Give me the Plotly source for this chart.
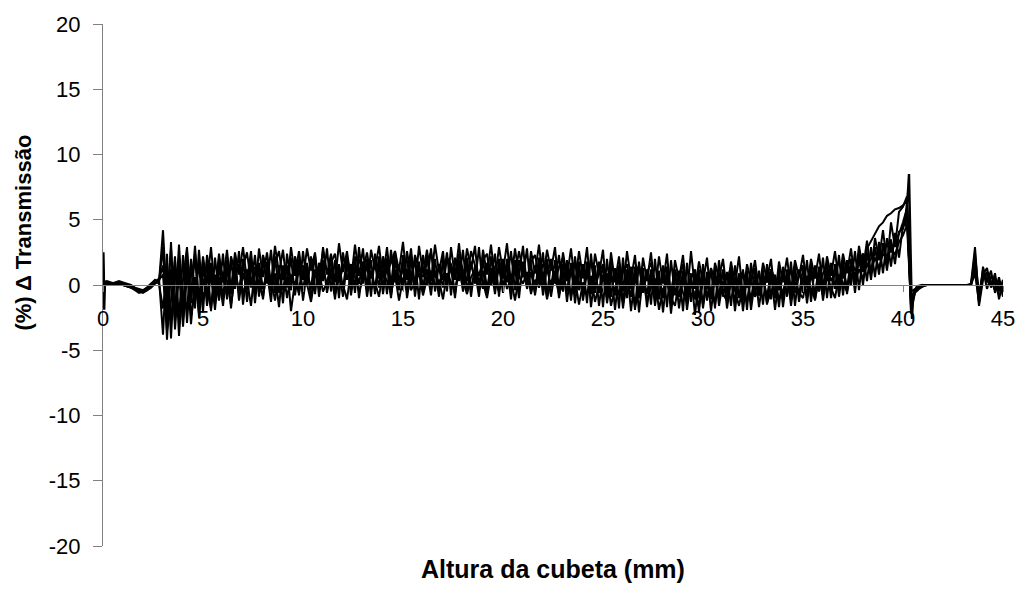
import numpy as np
import plotly.graph_objects as go

# Sample spacing along the cuvette height (mm)
x_step = 0.2

# Delta transmission (%) curves, one value per 0.2 mm (0 .. 45 mm)
serie_1 = [
    0.3, 0.2, 0.1, 0.2, 0.3, 0.2, 0.1, 0.0, -0.2, -0.3,
    -0.4, -0.2, 0.1, 0.4, 0.2, 4.2, -1.5, 2.8, -2.2, 3.1,
    -1.8, 2.6, -0.9, 3.0, -1.2, 2.2, 0.1, 2.9, -0.6, 2.4,
    0.2, 2.7, -0.4, 2.5, 0.8, 2.9, 0.3, 2.6, -0.8, 2.8,
    0.6, 2.5, 0.1, 3.0, 0.9, 2.7, -0.2, 2.9, 0.7, 2.6,
    0.4, 2.8, 1.1, 2.5, -0.3, 2.9, 0.8, 2.4, 0.2, 3.2,
    1.0, 2.6, 0.3, 3.1, 0.7, 2.8, -0.4, 2.7, 1.2, 3.0,
    0.5, 2.9, 0.0, 2.6, 1.1, 3.3, 0.4, 2.8, -0.2, 3.0,
    0.9, 2.7, 0.3, 3.1, 1.0, 2.6, -0.5, 2.9, 0.6, 3.2,
    0.2, 2.8, 1.2, 3.0, -0.3, 2.7, 0.8, 3.1, 0.4, 2.9,
    1.0, 3.2, 0.1, 2.8, 0.7, 3.0, -0.2, 2.6, 0.9, 3.1,
    0.3, 2.7, 1.1, 2.9, -0.4, 2.5, 0.6, 2.8, 0.0, 2.6,
    0.5, 2.9, -0.6, 2.4, 0.8, 2.7, -0.9, 2.5, 0.2, 2.2,
    -0.5, 2.6, 0.4, 2.3, -1.0, 2.1, 0.3, 2.5, -0.7, 2.2,
    0.1, 2.4, -1.2, 1.9, 0.4, 2.3, -0.8, 2.6, -0.3, 1.8,
    0.2, 2.1, -1.1, 1.7, 0.5, 2.0, -0.6, 1.8, 0.0, 2.2,
    -0.9, 1.6, 0.3, 1.9, -0.5, 1.7, 0.4, 2.0, -1.0, 1.8,
    0.2, 2.1, -0.4, 1.9, 0.6, 2.3, -0.2, 2.0, 0.5, 2.4,
    -0.3, 2.2, 0.7, 2.6, 0.1, 2.4, 0.9, 2.8, 0.3, 3.0,
    1.2, 3.4, 0.8, 3.6, 2.0, 4.2, 1.6, 4.8, 2.9, 5.6,
    6.0, 6.8, -0.5, -0.3, -0.1, 0.0, 0.0, 0.0, 0.0, 0.0,
    0.0, 0.0, 0.0, 0.0, 0.0, 0.0, 0.0, 0.1, 2.9, -1.4,
    1.4, 0.2, 1.1, -0.6, 0.3, -0.9,
]

serie_2 = [
    0.1, 0.1, 0.0, 0.1, 0.2, 0.1, 0.0, -0.1, -0.3, -0.5,
    -0.6, -0.4, -0.1, 0.2, 0.5, -3.8, 2.4, -4.1, 1.9, -2.6,
    2.3, -2.9, 1.6, -1.8, 2.7, -1.2, 1.9, -2.0, 2.1, -0.7,
    2.4, -1.1, 1.8, -0.3, 2.6, -1.5, 1.2, -0.2, 2.3, -0.9,
    1.9, 0.1, 2.7, -0.6, 1.5, -1.4, 2.4, 0.2, 1.8, -0.8,
    2.6, 0.0, 2.2, -0.7, 1.7, 0.3, 2.8, -0.5, 1.9, -1.0,
    2.5, 0.4, 1.6, -0.6, 2.9, 0.1, 2.0, -0.9, 2.4, 0.5,
    1.8, -0.7, 2.7, 0.2, 1.5, -0.4, 2.6, 0.6, 1.9, -1.1,
    2.3, 0.0, 2.8, -0.5, 1.6, 0.4, 2.5, -0.8, 2.1, 0.3,
    2.7, -0.6, 1.8, 0.1, 2.9, -0.3, 1.7, 0.5, 2.4, -0.9,
    2.0, 0.2, 2.6, -0.4, 1.9, 0.6, 2.8, -0.7, 1.5, 0.1,
    2.5, -0.8, 1.7, 0.3, 2.3, -0.5, 1.9, -1.2, 2.2, -0.3,
    1.6, -1.4, 2.4, -0.6, 1.8, -1.7, 2.0, -0.9, 1.3, -1.8,
    2.1, -1.0, 1.4, -1.9, 1.8, -0.6, 1.2, -1.5, 2.0, -1.1,
    1.5, -1.7, 1.9, -0.8, 1.1, -2.0, 1.7, -1.3, 0.9, -2.1,
    1.6, -1.2, 1.3, -1.8, 1.9, -0.9, 1.0, -1.6, 1.5, -1.0,
    1.2, -1.9, 1.7, -0.7, 1.1, -1.5, 1.6, -1.1, 0.8, -1.7,
    1.4, -0.9, 1.8, -1.6, 1.2, -0.6, 1.9, -1.3, 1.5, -0.5,
    2.1, -1.0, 1.7, -0.3, 2.3, -0.8, 1.9, 0.0, 2.6, -0.4,
    2.4, 0.3, 2.9, 0.6, 3.3, 0.9, 3.6, 1.4, 4.0, 2.1,
    4.6, 5.2, -1.2, -0.4, -0.2, 0.0, 0.0, 0.0, 0.0, 0.0,
    0.0, 0.0, 0.0, 0.0, 0.0, 0.0, 0.0, 0.0, 2.4, -0.9,
    0.8, 1.3, -0.2, 0.9, -1.1, 0.2,
]

serie_3 = [
    0.2, 0.3, 0.2, 0.1, 0.1, 0.0, -0.1, -0.2, -0.4, -0.6,
    -0.5, -0.3, 0.0, 0.3, 0.4, 1.5, -2.9, 3.3, -3.4, 0.9,
    -2.7, 1.4, -3.0, 0.6, -2.2, 1.8, -1.6, 0.9, -1.9, 1.5,
    -1.0, 1.9, -1.8, 1.2, -0.6, 2.0, -1.3, 1.6, -0.2, 1.1,
    -1.1, 1.8, -0.5, 0.9, -1.7, 1.5, -0.1, 2.1, -0.8, 1.3,
    -0.4, 1.7, -1.0, 1.2, 0.2, 1.9, -0.6, 1.0, -1.1, 1.6,
    -0.2, 2.0, -0.8, 1.4, 0.1, 1.8, -0.9, 1.1, -0.3, 2.2,
    -0.7, 1.5, -1.0, 1.9, 0.0, 1.3, -0.5, 2.1, -0.9, 1.6,
    -0.1, 1.2, -0.8, 2.0, -0.4, 1.7, 0.2, 1.4, -1.0, 1.9,
    -0.5, 1.6, -0.2, 1.1, -0.9, 2.0, -0.3, 1.3, -0.7, 1.8,
    -0.2, 1.5, -1.1, 1.9, -0.4, 1.2, 0.0, 1.7, -0.8, 1.4,
    -0.3, 2.0, -0.9, 1.1, -0.5, 1.6, -1.3, 1.3, -0.6, 1.8,
    -1.2, 1.0, -0.7, 1.5, -1.6, 0.8, -1.0, 1.4, -1.9, 0.9,
    -1.3, 1.2, -2.0, 0.7, -0.9, 1.3, -1.7, 0.6, -1.2, 1.1,
    -2.1, 0.8, -1.4, 1.2, -1.8, 0.5, -1.0, 0.9, -2.3, 0.7,
    -1.5, 1.0, -2.0, 0.6, -1.1, 1.2, -1.8, 0.4, -1.3, 0.9,
    -2.0, 0.7, -1.2, 1.1, -1.7, 0.5, -0.9, 1.0, -1.9, 0.6,
    -1.1, 1.2, -1.6, 0.8, -0.8, 1.3, -1.4, 0.9, -0.7, 1.4,
    -1.2, 1.1, -0.6, 1.6, -0.9, 1.3, -0.2, 1.9, -0.6, 2.1,
    0.0, 2.5, 0.4, 2.9, 0.8, 3.2, 1.1, 3.5, 1.6, 4.1,
    4.3, 5.6, -1.8, -0.6, -0.3, -0.1, 0.0, 0.0, 0.0, 0.0,
    0.0, 0.0, 0.0, 0.0, 0.0, 0.0, 0.0, 0.0, 1.6, -1.6,
    0.4, 1.0, 0.3, -0.4, 0.6, -0.7,
]

serie_4 = [
    0.0, 0.1, 0.1, 0.0, 0.1, 0.0, -0.1, -0.2, -0.3, -0.4,
    -0.5, -0.4, -0.2, 0.1, 0.3, 2.9, -4.2, 1.2, -2.8, 2.1,
    -3.2, 0.8, -1.4, 2.4, -2.5, 0.5, -0.9, 1.7, -1.5, 0.6,
    -1.6, 1.3, -0.7, 2.1, -1.2, 0.9, -0.4, 2.2, -1.4, 1.7,
    -0.3, 1.0, -1.3, 2.2, -0.6, 1.4, -1.0, 0.8, -0.2, 2.0,
    -1.2, 1.1, -0.3, 2.3, -0.9, 1.4, -0.1, 2.0, -0.6, 1.2,
    -0.9, 1.7, -0.4, 2.2, -1.0, 1.3, 0.0, 1.9, -0.7, 1.5,
    -0.2, 2.1, -0.8, 1.2, -0.4, 2.3, -1.0, 1.0, -0.1, 1.8,
    -0.6, 2.2, -0.3, 1.1, -0.9, 2.0, -0.1, 1.6, -0.7, 1.3,
    -0.3, 2.1, -0.9, 1.5, -0.1, 1.1, -0.8, 2.2, -0.2, 1.4,
    -0.6, 2.0, -0.4, 1.3, -1.0, 1.8, -0.3, 1.0, -0.6, 2.1,
    -0.8, 1.4, -0.2, 1.9, -1.0, 1.0, -0.5, 1.7, -1.4, 1.2,
    -0.9, 1.8, -1.7, 0.9, -0.6, 1.6, -1.4, 0.7, -0.8, 1.5,
    -1.8, 0.6, -0.9, 1.4, -2.1, 0.8, -0.7, 1.2, -1.6, 0.5,
    -1.0, 1.3, -2.2, 0.6, -0.9, 1.1, -1.9, 0.4, -1.1, 1.2,
    -1.8, 0.5, -0.8, 1.3, -1.6, 0.3, -1.1, 1.0, -2.0, 0.7,
    -1.2, 1.1, -1.9, 0.4, -0.8, 1.2, -1.5, 0.6, -1.0, 1.3,
    -1.7, 0.7, -0.9, 1.5, -1.3, 0.6, -0.8, 1.6, -1.2, 1.0,
    -0.5, 1.8, -1.0, 1.2, -0.3, 2.0, -0.7, 1.5, 0.1, 2.4,
    1.0, 2.8, 3.4, 3.9, 4.5, 4.8, 5.3, 5.5, 5.8, 5.9,
    6.1, 6.5, -2.2, -0.5, -0.2, 0.0, 0.0, 0.0, 0.0, 0.0,
    0.0, 0.0, 0.0, 0.0, 0.0, 0.0, 0.0, 0.0, 2.0, -1.1,
    1.2, -0.3, 0.7, 0.1, -0.5, 0.4,
]

serie_5 = [
    0.2, 0.2, 0.1, 0.1, 0.2, 0.1, 0.0, -0.1, -0.3, -0.4,
    -0.5, -0.3, 0.0, 0.2, 0.4, 0.8, -3.5, -1.2, 2.2, -3.9,
    0.4, 2.9, -2.4, -0.5, 1.6, -2.1, 2.3, 0.4, -1.0, 1.9,
    0.6, -0.8, 2.2, 1.0, -0.5, 1.4, 2.5, 0.2, 1.1, -0.3,
    2.3, 1.2, 0.0, 1.6, 2.6, 0.4, 1.3, -0.4, 2.2, 1.0,
    1.5, -0.1, 2.0, 1.8, 0.6, 2.6, 0.9, 1.7, 2.4, 0.2,
    1.4, 2.1, 0.8, 0.1, 2.0, 1.1, 2.5, 0.5, 1.6, -0.2,
    2.2, 1.0, 1.7, 2.6, 0.3, 1.5, 1.9, -0.1, 2.3, 1.2,
    0.6, 1.8, 2.5, 0.9, 1.3, -0.2, 2.1, 1.6, 0.4, 2.4,
    1.1, 0.3, 2.6, 1.5, 0.7, 1.9, 2.4, 0.0, 1.4, 2.0,
    0.5, 1.7, 2.2, 0.8, 2.6, 1.0, -0.1, 1.8, 2.3, 0.6,
    1.6, 0.9, 2.0, 0.1, 1.4, 2.1, 0.3, 1.0, 1.8, -0.4,
    1.2, 0.5, 1.9, -0.2, 0.9, 1.6, 0.1, 1.8, 0.4, -0.8,
    1.0, 1.6, -0.3, 0.8, 1.5, -0.6, 0.9, 1.7, 0.2, -0.9,
    0.7, 1.4, -0.5, 1.1, 0.3, 1.6, -0.4, 0.5, 1.2, -1.0,
    0.8, -0.3, 1.3, 0.2, -0.7, 1.1, 0.4, 1.4, -0.5, 0.6,
    1.0, -0.2, 0.5, 1.3, -0.8, 0.7, 0.2, 1.2, 0.5, -0.4,
    0.9, 0.1, 1.2, -0.6, 0.8, 1.5, 0.0, 0.6, 1.3, -0.2,
    0.9, 1.5, 0.3, 1.0, 1.8, 0.5, 1.4, 2.0, 1.1, 1.7,
    2.4, 1.5, 2.0, 2.7, 1.9, 2.6, 3.2, 2.5, 3.4, 3.9,
    4.8, 5.9, -1.0, -0.4, -0.2, -0.1, 0.0, 0.0, 0.0, 0.0,
    0.0, 0.0, 0.0, 0.0, 0.0, 0.0, 0.0, 0.0, 1.2, -0.6,
    0.9, 0.5, -0.1, 0.6, -0.3, 0.1,
]

serie_6 = [
    0.1, 0.0, 0.0, 0.1, 0.1, 0.0, -0.1, -0.2, -0.3, -0.5,
    -0.4, -0.2, 0.1, 0.3, 0.1, -1.8, 1.0, -2.6, 0.5, 1.7,
    -0.6, -1.9, 2.0, -0.3, -1.4, 1.2, -0.2, -1.8, 0.8, -1.2,
    1.0, 0.3, -1.5, 0.7, 1.6, -0.7, 0.4, -1.6, 1.4, 0.0,
    -0.9, 1.1, 0.5, -1.2, 0.9, -0.4, 1.5, -2.0, 0.3, -0.6,
    1.2, 0.1, -1.3, 0.6, 1.0, -0.5, 0.2, 1.3, -0.7, 0.5,
    0.0, -1.1, 1.1, 0.6, -0.5, 0.4, 1.4, -0.3, 0.2, -0.9,
    1.0, 0.3, -0.6, 0.8, -1.2, 0.5, 1.2, -0.4, 0.3, 0.9,
    -0.8, 0.5, 1.1, -0.2, 0.4, -1.1, 0.9, 0.2, -0.5, 1.3,
    0.4, -0.7, 0.6, 1.2, -0.4, 0.2, -1.0, 0.8, 0.3, -0.5,
    1.1, -0.3, 0.5, -1.2, 0.7, 0.1, 1.0, -0.6, 0.4, -0.2,
    0.9, -1.1, 0.3, 0.6, -0.7, 0.2, 1.0, -0.9, 0.5, -1.5,
    0.2, -0.8, 0.7, -1.3, 0.0, -0.5, 0.9, -1.6, -0.2, 0.4,
    -1.4, -0.1, 0.6, -1.7, -0.4, 0.3, -1.1, -0.2, 0.5, -1.9,
    -0.3, 0.2, -1.0, -1.6, 0.4, -0.6, -1.3, 0.1, -0.8, -1.7,
    0.3, -1.0, -0.2, -1.5, 0.5, -0.7, -1.2, 0.2, -0.4, -1.6,
    -0.1, -1.3, 0.4, -0.9, -0.3, 0.6, -1.4, -0.5, 0.3, -1.1,
    -0.4, 0.5, -1.2, 0.2, -0.6, -1.0, 0.7, -0.3, -1.1, 0.4,
    -0.8, 0.6, -0.2, -1.0, 0.8, 0.1, -0.5, 0.9, 0.3, 1.2,
    0.5, 1.6, 1.0, 2.1, 1.3, 2.4, 2.0, 2.9, 2.3, 3.3,
    3.8, 4.6, -1.5, -0.5, -0.2, 0.0, 0.0, 0.0, 0.0, 0.0,
    0.0, 0.0, 0.0, 0.0, 0.0, 0.0, 0.0, 0.0, 0.9, -1.3,
    0.6, 0.8, 0.0, 0.3, -0.8, -0.2,
]

# Fine-resolution readings of the two sharp edges (start of cuvette and meniscus)
inicio_x = [0.0, 0.02, 0.04, 0.06, 0.08, 0.1, 0.15, 0.2]
inicio_y = [0.0, 2.5, 1.0, -1.9, -0.5, 0.3, 0.1, 0.1]
menisco_x = [40.1, 40.2, 40.25, 40.3, 40.33, 40.36, 40.4, 40.45, 40.5, 40.6, 40.7, 41.0]
menisco_y = [4.5, 6.0, 7.2, 8.5, 6.0, 2.0, -1.0, -2.6, -1.0, -0.4, -0.1, 0.0]

x_ticks = [0, 5, 10, 15, 20, 25, 30, 35, 40, 45]
y_ticks = [-20, -15, -10, -5, 0, 5, 10, 15, 20]
y_tick_text = ["-20", "-15", "-10", "-5", "0", "5", "10", "15", "20"]

fig = go.Figure()
for serie in [serie_1, serie_2, serie_3, serie_4, serie_5, serie_6]:
    xs = np.round(np.arange(len(serie)) * x_step, 2)
    fig.add_trace(go.Scatter(x=xs, y=serie, mode="lines",
                             line=dict(color="black", width=2.0),
                             showlegend=False, hoverinfo="skip"))
for ex, ey in [(inicio_x, inicio_y), (menisco_x, menisco_y)]:
    fig.add_trace(go.Scatter(x=ex, y=ey, mode="lines",
                             line=dict(color="black", width=2.4),
                             showlegend=False, hoverinfo="skip"))

fnt = "Liberation Sans, Arial, sans-serif"
fig.update_layout(
    width=1027, height=601,
    margin=dict(l=103, r=19, t=22, b=55),
    paper_bgcolor="white", plot_bgcolor="white",
    font=dict(family=fnt, size=22, color="black"),
    xaxis=dict(range=[0, 45], tickvals=x_ticks, showgrid=False, zeroline=False,
               showline=True, linecolor="#808080", linewidth=1,
               ticks="outside", ticklen=6, tickcolor="#808080",
               anchor="free", position=0.5, ticklabelstandoff=8,
               tickfont=dict(size=22, family=fnt)),
    yaxis=dict(range=[-20, 20], tickvals=y_ticks, ticktext=y_tick_text,
               showgrid=False, zeroline=False,
               showline=True, linecolor="#808080", linewidth=1,
               ticks="outside", ticklen=9, tickcolor="#808080",
               ticklabelstandoff=8, tickfont=dict(size=22, family=fnt)),
    annotations=[
        dict(text="<b>Altura da cubeta (mm)</b>", xref="paper", yref="paper",
             x=0.5, y=-0.045, xanchor="center", yanchor="middle", showarrow=False,
             font=dict(size=25, family=fnt)),
        dict(text="<b>(%) Δ Transmissão</b>", xref="paper", yref="paper",
             x=-0.088, y=0.6, xanchor="center", yanchor="middle", showarrow=False,
             textangle=-90, font=dict(size=22, family=fnt)),
    ],
)

fig.write_html("out.html")
